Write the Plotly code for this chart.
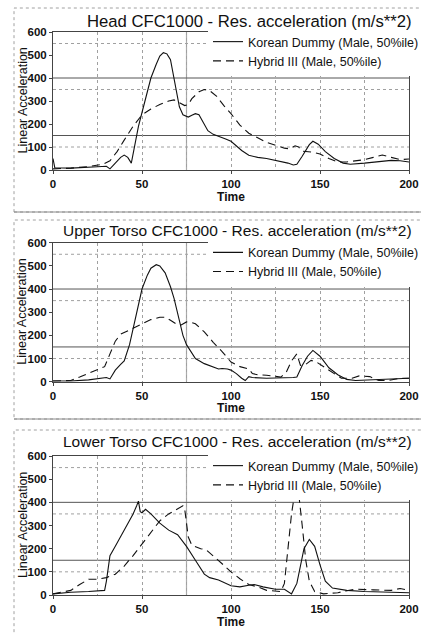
import plotly.graph_objects as go

# ---------------- data ----------------
titles = [
    "Head CFC1000 - Res. acceleration (m/s**2)",
    "Upper Torso CFC1000 - Res. acceleration (m/s**2)",
    "Lower Torso CFC1000 - Res. acceleration (m/s**2)",
]
series_names = ["Korean Dummy (Male, 50%ile)", "Hybrid III (Male, 50%ile)"]
x_title = "Time"
y_title = "Linear Acceleration"

head_kd_t = [0, 1, 10, 20, 25, 30, 32, 35, 38, 40, 42, 44, 46, 48, 50, 53, 55, 58, 60, 62, 64, 66, 68, 71, 73, 76, 78, 80, 82, 85, 87, 90, 94, 97, 100, 103, 106, 110, 115, 120, 127, 132, 135, 137, 140, 144, 146, 149, 153, 158, 163, 167, 175, 185, 190, 195, 200]
head_kd_v = [50, 10, 8, 10, 14, 16, 5, 30, 55, 65, 55, 30, 110, 190, 250, 340, 400, 460, 495, 510, 505, 480, 400, 275, 240, 230, 238, 245, 240, 200, 171, 155, 145, 135, 125, 105, 85, 64, 55, 50, 40, 30, 22, 25, 60, 110, 125, 112, 80, 50, 30, 25, 30, 38, 42, 40, 35]
head_h3_t = [0, 10, 20, 28, 32, 36, 40, 45, 50, 55, 60, 65, 68, 72, 74, 76, 78, 82, 85, 88, 92, 96, 100, 105, 110, 115, 120, 125, 130, 133, 136, 138, 140, 145, 150, 155, 160, 165, 170, 175, 180, 185, 190, 195, 200]
head_h3_v = [5, 8, 15, 25, 40, 80, 130, 190, 240, 265, 285, 300, 305, 290, 280, 285, 310, 340, 350, 345, 320, 280, 245, 195, 160, 140, 120, 108, 95, 92, 105, 100, 82, 78, 70, 50, 35, 35, 40, 45, 55, 65, 55, 45, 48]

upper_kd_t = [0, 10, 20, 28, 30, 32, 35, 38, 40, 43, 45, 48, 50, 53, 55, 58, 60, 63, 66, 68, 70, 73, 75, 78, 80, 85, 90, 93, 95, 98, 100, 103, 106, 108, 110, 112, 120, 130, 135, 137, 140, 143, 146, 150, 155, 160, 165, 170, 180, 190, 200]
upper_kd_v = [3, 3, 8, 15, 18, 12, 50, 75, 90, 160, 230, 330, 400, 460, 490, 505, 500, 470, 410, 360, 300, 200, 160, 125, 100, 78, 65, 55, 57, 55, 50, 35, 15, 5, 22, 18, 15, 15, 18, 20, 70, 110, 135, 110, 60, 30, 10, 5, 8, 12, 15]
upper_h3_t = [0, 10, 15, 20, 25, 29, 32, 35, 38, 42, 45, 50, 55, 60, 63, 66, 70, 72, 75, 78, 80, 85, 90, 95, 100, 105, 110, 112, 115, 120, 125, 128, 131, 134, 137, 139, 142, 145, 148, 152, 158, 162, 168, 172, 178, 183, 188, 195, 200]
upper_h3_v = [3, 5, 20, 35, 50, 65, 120, 175, 205, 220, 230, 250, 268, 278, 278, 265, 245, 245, 258, 255, 250, 215, 170, 130, 85, 65, 55, 35, 30, 28, 25, 20, 40, 90, 120, 70, 75, 92, 85, 65, 35, 15, 15, 25, 22, 5, 5, 15, 15]

lower_kd_t = [0, 5, 10, 20, 25, 29, 30, 32, 35, 40, 45, 47, 48, 49, 50, 52, 55, 60, 65, 70, 75, 80, 85, 88, 93, 100, 105, 110, 113, 118, 125, 130, 132, 134, 137, 139, 141, 144, 147, 150, 153, 157, 165, 175, 185, 200]
lower_kd_v = [5, 10, 12, 15, 18, 20, 60, 170, 210, 280, 350, 385, 405, 360, 355, 370, 350, 310, 280, 260, 210, 150, 90, 75, 65, 40, 35, 42, 45, 35, 25, 25, 15, 5, 50, 120, 200, 240, 210, 130, 60, 30, 20, 15, 12, 10]
lower_h3_t = [0, 10, 15, 20, 25, 30, 35, 40, 45, 50, 55, 60, 65, 70, 73, 74, 76, 78, 83, 86, 90, 95, 100, 105, 110, 115, 120, 125, 128, 130, 132, 134, 136, 138, 140, 142, 144, 147, 152, 160, 165, 170, 180, 190, 195, 200]
lower_h3_v = [5, 20, 45, 68, 68, 75, 90, 125, 170, 220, 275, 320, 350, 370, 385, 370, 250, 215, 200, 195, 170, 135, 100, 70, 45, 35, 20, 15, 15, 50, 200, 350, 450, 440, 300, 150, 60, 15, 5, 10, 18, 25, 22, 20, 28, 20]

panels = [
    (head_kd_t, head_kd_v, head_h3_t, head_h3_v),
    (upper_kd_t, upper_kd_v, upper_h3_t, upper_h3_v),
    (lower_kd_t, lower_kd_v, lower_h3_t, lower_h3_v),
]

ref_solid = [150, 400]
ref_dotted = [100, 350, 550]
ref_vertical = [75]

# ---------------- layout geometry ----------------
W, H = 421, 633
FONT = "Liberation Sans, Arial, sans-serif"
x_dom = [53 / W, 409 / W]
plot_px = [(32, 170), (242.7, 381.7), (456, 595)]      # top, bottom of plot areas
box_px = [(8, 212), (220, 419), (430, 660)]            # panel frames
title_px = [21, 230, 441.5]
title_size = [16.7, 15.5, 15.5]

def py(p):
    return 1 - p / H

fig = go.Figure()
shapes, annotations = [], []

for i, (kt, kv, ht, hv) in enumerate(panels):
    n = "" if i == 0 else str(i + 1)
    xa, ya = "x" + n, "y" + n
    leg = "legend" + n
    fig.add_trace(go.Scatter(x=kt, y=kv, mode="lines", name=series_names[0],
                             line=dict(color="#111111", width=1.1),
                             xaxis=xa, yaxis=ya, legend=leg, hoverinfo="skip"))
    fig.add_trace(go.Scatter(x=ht, y=hv, mode="lines", name=series_names[1],
                             line=dict(color="#111111", width=1.1, dash="8px,5px"),
                             xaxis=xa, yaxis=ya, legend=leg, hoverinfo="skip"))
    top, bot = plot_px[i]
    dom = [py(bot), py(top)]
    axis_common = dict(showline=True, linecolor="#444444", linewidth=1, mirror=True,
                       ticks="outside", ticklen=3, tickcolor="#444444",
                       tickfont=dict(family=FONT, size=11.5, color="#111111", weight="bold"),
                       zeroline=False, automargin=False)
    fig.update_layout(**{
        "xaxis" + n: dict(domain=x_dom, range=[0, 200], dtick=50, tick0=0,
                          showgrid=True, gridcolor="#a0a0a0", griddash="dot", gridwidth=1,
                          minor=dict(dtick=25, showgrid=True, gridcolor="#a0a0a0",
                                     griddash="dot", ticks=""),
                          anchor=ya,
                          title=dict(text=x_title, standoff=2,
                                     font=dict(family=FONT, size=12, color="#111111", weight="bold")),
                          **axis_common),
        "yaxis" + n: dict(domain=dom, range=[0, 600], dtick=100, showgrid=False,
                          anchor=xa, **axis_common),
        leg: dict(x=424 / W, xanchor="right", y=py(top - 5), yanchor="top",
                  bgcolor="white", borderwidth=0,
                  font=dict(family=FONT, size=12.5, color="#111111"),
                  tracegroupgap=0, itemwidth=30),
    })
    for v in ref_vertical:
        shapes.append(dict(type="line", xref=xa, yref=ya + " domain", x0=v, x1=v, y0=0, y1=1,
                           line=dict(color="#ababab", width=1.2), layer="below"))
    for v in ref_solid:
        shapes.append(dict(type="line", xref=xa + " domain", yref=ya, x0=0, x1=1, y0=v, y1=v,
                           line=dict(color="#555555", width=1), layer="below"))
    for v in ref_dotted:
        shapes.append(dict(type="line", xref=xa + " domain", yref=ya, x0=0, x1=1, y0=v, y1=v,
                           line=dict(color="#a0a0a0", width=1, dash="dot"), layer="below"))
    bt, bb = box_px[i]
    shapes.append(dict(type="rect", xref="paper", yref="paper", x0=14 / W, x1=1.02,
                       y0=py(bb), y1=py(bt), line=dict(color="#a0a0a0", width=1, dash="dot")))
    if i < 2:
        shapes.append(dict(type="line", xref="paper", yref="paper", x0=14 / W, x1=1.02,
                           y0=py(bb), y1=py(bb), line=dict(color="#8a8a8a", width=1)))
    annotations.append(dict(text=titles[i], xref="paper", yref="paper",
                            x=414 / W, xanchor="right", y=py(title_px[i]), yanchor="middle",
                            showarrow=False,
                            font=dict(family=FONT, size=title_size[i], color="#111111")))
    annotations.append(dict(text=y_title, xref="paper", yref="paper", textangle=-90,
                            x=22.5 / W, xanchor="center", y=(dom[0] + dom[1]) / 2,
                            yanchor="middle", showarrow=False,
                            font=dict(family=FONT, size=12.5, color="#111111")))

fig.update_layout(width=W, height=H, margin=dict(l=0, r=0, t=0, b=0, autoexpand=False),
                  paper_bgcolor="white", plot_bgcolor="white",
                  shapes=shapes, annotations=annotations, showlegend=True)

fig.write_html("out.html", config={"displayModeBar": False},
               post_script="document.body.style.margin='0px';document.body.style.padding='0px';")
